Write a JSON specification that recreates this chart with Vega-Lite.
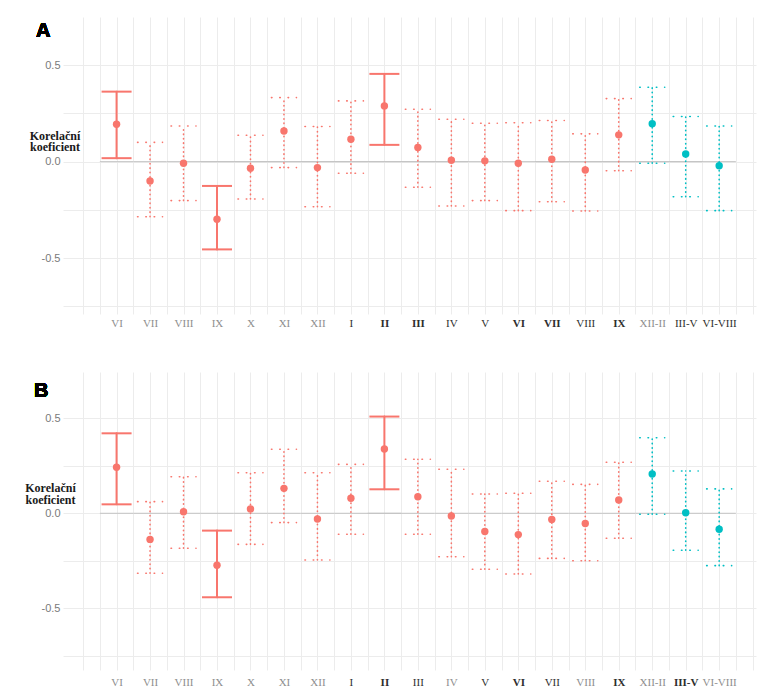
{
  "$schema": "https://vega.github.io/schema/vega-lite/v6.json",
  "padding": {"left": 24, "top": 17, "right": 2, "bottom": 2},
  "background": "white",
  "config": {"view": {"stroke": null},
    "axisX": {"grid": true, "gridColor": "#ececec", "gridWidth": 1, "domain": false, "ticks": false, "labelFont": "Liberation Serif", "labelFontSize": 11, "labelOverlap": false, "labelFlush": false, "labelBound": false},
    "axisY": {"grid": true, "gridColor": "#ececec", "domain": false, "ticks": false, "labelFont": "Liberation Sans", "labelFontSize": 11, "labelColor": "#7a7a7a", "labelPadding": 3, "titleAngle": 0, "titleAlign": "center", "titleBaseline": "alphabetic", "titleFont": "Liberation Serif", "titleFontSize": 12, "titleFontWeight": "bold", "titleColor": "#1a1a1a"}
  },
  "spacing": 44,
  "datasets": {
    "cor": [
      {"p": "A", "idx": 1, "period": "VI", "r": 0.194, "lo": 0.018, "hi": 0.363, "sig": "yes", "grp": "month"},
      {"p": "A", "idx": 2, "period": "VII", "r": -0.100, "lo": -0.286, "hi": 0.100, "sig": "no", "grp": "month"},
      {"p": "A", "idx": 3, "period": "VIII", "r": -0.008, "lo": -0.202, "hi": 0.185, "sig": "no", "grp": "month"},
      {"p": "A", "idx": 4, "period": "IX", "r": -0.299, "lo": -0.455, "hi": -0.126, "sig": "yes", "grp": "month"},
      {"p": "A", "idx": 5, "period": "X", "r": -0.034, "lo": -0.194, "hi": 0.137, "sig": "no", "grp": "month"},
      {"p": "A", "idx": 6, "period": "XI", "r": 0.159, "lo": -0.031, "hi": 0.332, "sig": "no", "grp": "month"},
      {"p": "A", "idx": 7, "period": "XII", "r": -0.031, "lo": -0.234, "hi": 0.182, "sig": "no", "grp": "month"},
      {"p": "A", "idx": 8, "period": "I", "r": 0.116, "lo": -0.060, "hi": 0.315, "sig": "no", "grp": "month"},
      {"p": "A", "idx": 9, "period": "II", "r": 0.289, "lo": 0.087, "hi": 0.455, "sig": "yes", "grp": "month"},
      {"p": "A", "idx": 10, "period": "III", "r": 0.073, "lo": -0.133, "hi": 0.272, "sig": "no", "grp": "month"},
      {"p": "A", "idx": 11, "period": "IV", "r": 0.007, "lo": -0.230, "hi": 0.220, "sig": "no", "grp": "month"},
      {"p": "A", "idx": 12, "period": "V", "r": 0.004, "lo": -0.202, "hi": 0.199, "sig": "no", "grp": "month"},
      {"p": "A", "idx": 13, "period": "VI", "r": -0.008, "lo": -0.254, "hi": 0.202, "sig": "no", "grp": "month"},
      {"p": "A", "idx": 14, "period": "VII", "r": 0.012, "lo": -0.208, "hi": 0.213, "sig": "no", "grp": "month"},
      {"p": "A", "idx": 15, "period": "VIII", "r": -0.043, "lo": -0.256, "hi": 0.144, "sig": "no", "grp": "month"},
      {"p": "A", "idx": 16, "period": "IX", "r": 0.139, "lo": -0.047, "hi": 0.327, "sig": "no", "grp": "month"},
      {"p": "A", "idx": 17, "period": "XII-II", "r": 0.197, "lo": -0.008, "hi": 0.386, "sig": "no", "grp": "season"},
      {"p": "A", "idx": 18, "period": "III-V", "r": 0.040, "lo": -0.182, "hi": 0.234, "sig": "no", "grp": "season"},
      {"p": "A", "idx": 19, "period": "VI-VIII", "r": -0.021, "lo": -0.254, "hi": 0.185, "sig": "no", "grp": "season"},
      {"p": "B", "idx": 1, "period": "VI", "r": 0.242, "lo": 0.047, "hi": 0.420, "sig": "yes", "grp": "month"},
      {"p": "B", "idx": 2, "period": "VII", "r": -0.137, "lo": -0.315, "hi": 0.061, "sig": "no", "grp": "month"},
      {"p": "B", "idx": 3, "period": "VIII", "r": 0.008, "lo": -0.184, "hi": 0.192, "sig": "no", "grp": "month"},
      {"p": "B", "idx": 4, "period": "IX", "r": -0.273, "lo": -0.441, "hi": -0.091, "sig": "yes", "grp": "month"},
      {"p": "B", "idx": 5, "period": "X", "r": 0.023, "lo": -0.163, "hi": 0.213, "sig": "no", "grp": "month"},
      {"p": "B", "idx": 6, "period": "XI", "r": 0.131, "lo": -0.049, "hi": 0.336, "sig": "no", "grp": "month"},
      {"p": "B", "idx": 7, "period": "XII", "r": -0.030, "lo": -0.245, "hi": 0.213, "sig": "no", "grp": "month"},
      {"p": "B", "idx": 8, "period": "I", "r": 0.079, "lo": -0.110, "hi": 0.257, "sig": "no", "grp": "month"},
      {"p": "B", "idx": 9, "period": "II", "r": 0.338, "lo": 0.126, "hi": 0.508, "sig": "yes", "grp": "month"},
      {"p": "B", "idx": 10, "period": "III", "r": 0.087, "lo": -0.110, "hi": 0.284, "sig": "no", "grp": "month"},
      {"p": "B", "idx": 11, "period": "IV", "r": -0.014, "lo": -0.228, "hi": 0.231, "sig": "no", "grp": "month"},
      {"p": "B", "idx": 12, "period": "V", "r": -0.096, "lo": -0.294, "hi": 0.101, "sig": "no", "grp": "month"},
      {"p": "B", "idx": 13, "period": "VI", "r": -0.112, "lo": -0.319, "hi": 0.105, "sig": "no", "grp": "month"},
      {"p": "B", "idx": 14, "period": "VII", "r": -0.033, "lo": -0.237, "hi": 0.168, "sig": "no", "grp": "month"},
      {"p": "B", "idx": 15, "period": "VIII", "r": -0.054, "lo": -0.249, "hi": 0.152, "sig": "no", "grp": "month"},
      {"p": "B", "idx": 16, "period": "IX", "r": 0.070, "lo": -0.131, "hi": 0.268, "sig": "no", "grp": "month"},
      {"p": "B", "idx": 17, "period": "XII-II", "r": 0.206, "lo": -0.005, "hi": 0.397, "sig": "no", "grp": "season"},
      {"p": "B", "idx": 18, "period": "III-V", "r": 0.003, "lo": -0.194, "hi": 0.222, "sig": "no", "grp": "season"},
      {"p": "B", "idx": 19, "period": "VI-VIII", "r": -0.084, "lo": -0.275, "hi": 0.128, "sig": "no", "grp": "season"}
    ]
  },
  "vconcat": [
    {
      "width": 693,
      "height": 297,
      "data": {"name": "cor"},
      "transform": [{"filter": "datum.p == 'A'"}],
      "encoding": {
        "x": {"field": "idx", "type": "quantitative", "scale": {"domain": [-0.6, 20.1], "nice": false, "zero": false},
          "axis": {"title": null, "values": [0,0.5,1,1.5,2,2.5,3,3.5,4,4.5,5,5.5,6,6.5,7,7.5,8,8.5,9,9.5,10,10.5,11,11.5,12,12.5,13,13.5,14,14.5,15,15.5,16,16.5,17,17.5,18,18.5,19,19.5,20],
            "labelExpr": "datum.value % 1 == 0 ? ['', 'VI', 'VII', 'VIII', 'IX', 'X', 'XI', 'XII', 'I', 'II', 'III', 'IV', 'V', 'VI', 'VII', 'VIII', 'IX', 'XII-II', 'III-V', 'VI-VIII', ''][datum.value] : ''",
            "labelPadding": 3,
            "labelColor": {"condition": {"test": "indexof([1,2,3,4,5,6,7,17], datum.value) >= 0", "value": "#8e8e8e"}, "value": "#2e2e2e"},
            "labelFontWeight": {"condition": {"test": "indexof([9,10,13,14,16], datum.value) >= 0", "value": "bold"}, "value": "normal"}}},
        "y": {"field": "lo", "type": "quantitative", "scale": {"domain": [-0.79, 0.75], "nice": false, "zero": false},
          "axis": {"title": ["Korelační", "koeficient"], "values": [-0.75, -0.5, -0.25, 0, 0.25, 0.5],
            "labelExpr": "datum.value == 0.5 ? '0.5' : datum.value == 0 ? '0.0' : datum.value == -0.5 ? '-0.5' : ''",
            "titleX": -8.5, "titleY": 122, "titleLineHeight": 11}},
        "color": {"field": "grp", "type": "nominal", "scale": {"domain": ["month", "season"], "range": ["#F8766D", "#00BFC4"]}, "legend": null}
      },
      "layer": [
        {
          "mark": {"type": "rule", "color": "#c4c4c4", "strokeWidth": 1, "xOffset": -16.7, "x2Offset": 16.7},
          "encoding": {
            "x": {"field": "idx", "type": "quantitative", "aggregate": "min"},
            "x2": {"field": "idx", "aggregate": "max"},
            "y": {"datum": 0, "type": "quantitative"},
            "color": {"value": "#c4c4c4"}
          }
        },
        {
          "mark": {"type": "rule", "strokeCap": "round"},
          "encoding": {
            "y2": {"field": "hi"},
            "strokeWidth": {"condition": {"test": "datum.sig == 'no'", "value": 1.6}, "value": 2},
            "strokeDash": {"condition": {"test": "datum.sig == 'no'", "value": [0.5, 3.9]}, "value": [1, 0]}
          }
        },
        {
          "transform": [{"filter": "datum.sig == 'yes'"}],
          "mark": {"type": "rule", "strokeWidth": 2, "xOffset": -15, "x2Offset": 15},
          "encoding": {"x2": {"field": "idx"}}
        },
        {
          "transform": [{"filter": "datum.sig == 'yes'"}],
          "mark": {"type": "rule", "strokeWidth": 2, "xOffset": -15, "x2Offset": 15},
          "encoding": {"x2": {"field": "idx"}, "y": {"field": "hi", "type": "quantitative"}}
        },
        {
          "transform": [{"filter": "datum.sig == 'no'"}],
          "mark": {"type": "rule", "strokeWidth": 1.6, "strokeCap": "round", "strokeDash": [0.5, 7.8], "xOffset": -12.5, "x2Offset": 12.5},
          "encoding": {"x2": {"field": "idx"}}
        },
        {
          "transform": [{"filter": "datum.sig == 'no'"}],
          "mark": {"type": "rule", "strokeWidth": 1.6, "strokeCap": "round", "strokeDash": [0.5, 7.8], "xOffset": -12.5, "x2Offset": 12.5},
          "encoding": {"x2": {"field": "idx"}, "y": {"field": "hi", "type": "quantitative"}}
        },
        {
          "mark": {"type": "point", "filled": true, "shape": "circle", "size": 55, "opacity": 1},
          "encoding": {"y": {"field": "r", "type": "quantitative"}}
        },
        {
          "mark": {"type": "text", "text": "A", "font": "Liberation Sans", "fontSize": 20, "fontWeight": "bold", "align": "left", "baseline": "alphabetic"},
          "encoding": {
            "x": {"datum": -1.41, "type": "quantitative"},
            "y": {"datum": 0.646, "type": "quantitative"},
            "color": {"value": "#000000"}
          }
        }
      ]
    },
    {
      "width": 693,
      "height": 298,
      "data": {"name": "cor"},
      "transform": [{"filter": "datum.p == 'B'"}],
      "encoding": {
        "x": {"field": "idx", "type": "quantitative", "scale": {"domain": [-0.6, 20.1], "nice": false, "zero": false},
          "axis": {"title": null, "values": [0,0.5,1,1.5,2,2.5,3,3.5,4,4.5,5,5.5,6,6.5,7,7.5,8,8.5,9,9.5,10,10.5,11,11.5,12,12.5,13,13.5,14,14.5,15,15.5,16,16.5,17,17.5,18,18.5,19,19.5,20],
            "labelExpr": "datum.value % 1 == 0 ? ['', 'VI', 'VII', 'VIII', 'IX', 'X', 'XI', 'XII', 'I', 'II', 'III', 'IV', 'V', 'VI', 'VII', 'VIII', 'IX', 'XII-II', 'III-V', 'VI-VIII', ''][datum.value] : ''",
            "labelPadding": 6,
            "labelColor": {"condition": {"test": "indexof([1,2,3,4,5,6,7,11,15,17,19], datum.value) >= 0", "value": "#8e8e8e"}, "value": "#2e2e2e"},
            "labelFontWeight": {"condition": {"test": "indexof([9,13,16,18], datum.value) >= 0", "value": "bold"}, "value": "normal"}}},
        "y": {"field": "lo", "type": "quantitative", "scale": {"domain": [-0.823, 0.742], "nice": false, "zero": false},
          "axis": {"title": ["Korelační", "koeficient"], "values": [-0.75, -0.5, -0.25, 0, 0.25, 0.5],
            "labelExpr": "datum.value == 0.5 ? '0.5' : datum.value == 0 ? '0.0' : datum.value == -0.5 ? '-0.5' : ''",
            "titleX": -13, "titleY": 119, "titleLineHeight": 12}},
        "color": {"field": "grp", "type": "nominal", "scale": {"domain": ["month", "season"], "range": ["#F8766D", "#00BFC4"]}, "legend": null}
      },
      "layer": [
        {
          "mark": {"type": "rule", "color": "#c4c4c4", "strokeWidth": 1, "xOffset": -16.7, "x2Offset": 16.7},
          "encoding": {
            "x": {"field": "idx", "type": "quantitative", "aggregate": "min"},
            "x2": {"field": "idx", "aggregate": "max"},
            "y": {"datum": 0, "type": "quantitative"},
            "color": {"value": "#c4c4c4"}
          }
        },
        {
          "mark": {"type": "rule", "strokeCap": "round"},
          "encoding": {
            "y2": {"field": "hi"},
            "strokeWidth": {"condition": {"test": "datum.sig == 'no'", "value": 1.6}, "value": 2},
            "strokeDash": {"condition": {"test": "datum.sig == 'no'", "value": [0.5, 3.9]}, "value": [1, 0]}
          }
        },
        {
          "transform": [{"filter": "datum.sig == 'yes'"}],
          "mark": {"type": "rule", "strokeWidth": 2, "xOffset": -15, "x2Offset": 15},
          "encoding": {"x2": {"field": "idx"}}
        },
        {
          "transform": [{"filter": "datum.sig == 'yes'"}],
          "mark": {"type": "rule", "strokeWidth": 2, "xOffset": -15, "x2Offset": 15},
          "encoding": {"x2": {"field": "idx"}, "y": {"field": "hi", "type": "quantitative"}}
        },
        {
          "transform": [{"filter": "datum.sig == 'no'"}],
          "mark": {"type": "rule", "strokeWidth": 1.6, "strokeCap": "round", "strokeDash": [0.5, 7.8], "xOffset": -12.5, "x2Offset": 12.5},
          "encoding": {"x2": {"field": "idx"}}
        },
        {
          "transform": [{"filter": "datum.sig == 'no'"}],
          "mark": {"type": "rule", "strokeWidth": 1.6, "strokeCap": "round", "strokeDash": [0.5, 7.8], "xOffset": -12.5, "x2Offset": 12.5},
          "encoding": {"x2": {"field": "idx"}, "y": {"field": "hi", "type": "quantitative"}}
        },
        {
          "mark": {"type": "point", "filled": true, "shape": "circle", "size": 55, "opacity": 1},
          "encoding": {"y": {"field": "r", "type": "quantitative"}}
        },
        {
          "mark": {"type": "text", "text": "B", "font": "Liberation Sans", "fontSize": 20, "fontWeight": "bold", "align": "left", "baseline": "alphabetic"},
          "encoding": {
            "x": {"datum": -1.466, "type": "quantitative"},
            "y": {"datum": 0.611, "type": "quantitative"},
            "color": {"value": "#000000"}
          }
        }
      ]
    }
  ]
}
